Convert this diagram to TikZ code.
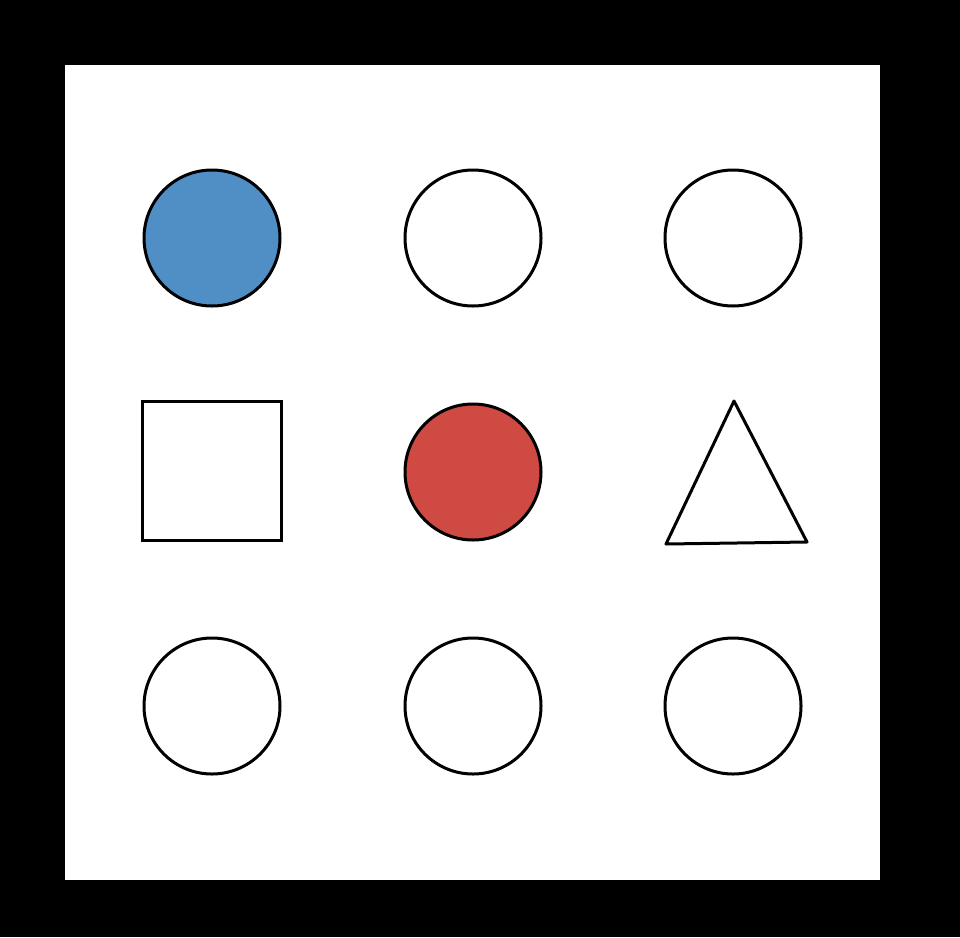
\documentclass[tikz,border=0pt]{standalone}
\usetikzlibrary{shapes.geometric}
\definecolor{ballblue}{HTML}{4F8FC6}
\definecolor{ballred}{HTML}{CF4A43}
\tikzset{
	ball/.style={draw=black,circle,line width=3pt,minimum size=136pt,inner sep=0pt,fill=white},
	box/.style={draw=black,rectangle,line width=3pt,minimum size=139pt,inner sep=0pt,fill=white}
}
\begin{document}
\begin{tikzpicture}[x=1pt,y=-1pt]
		\fill [black] (0,0) rectangle (960,937);
		\fill [white] (65,65) rectangle (880,880);
		
		\node [ball,fill=ballblue] (b11) at (212,238) {};
		\node [ball] (b12) at (473,238) {};
		\node [ball] (b13) at (733,238) {};
		
		\node [box] (s21) at (211.5,470.5) {};
		\node [ball,fill=ballred] (b22) at (473,472) {};
		\coordinate (t1) at (734,401);
		\coordinate (t2) at (807,542);
		\coordinate (t3) at (666,544);
		\draw [line width=3pt,line join=round] (t1) -- (t2) -- (t3) -- cycle;
		
		\node [ball] (b31) at (212,706) {};
		\node [ball] (b32) at (473,706) {};
		\node [ball] (b33) at (733,706) {};
		
	\end{tikzpicture}
\end{document}
